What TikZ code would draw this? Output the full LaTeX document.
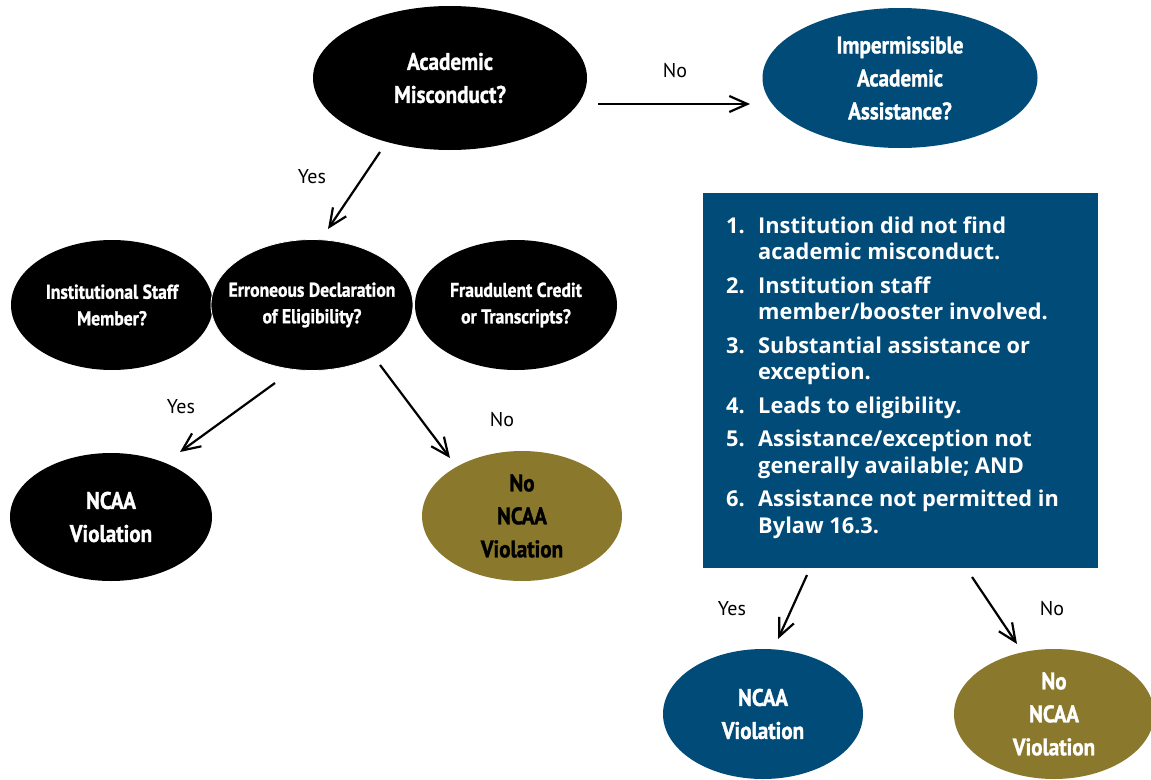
\documentclass[tikz,border=0pt]{standalone}
\usepackage{fontspec}
\setmainfont{PT Sans}
\newfontfamily\condf[FakeStretch=0.88,FakeBold=1.2]{PT Sans}
\newfontfamily\listf{Open Sans}
\newcommand\cl[1]{\makebox[0pt]{#1}}
\usetikzlibrary{shapes.geometric,arrows.meta}
\definecolor{ncaablue}{HTML}{014B78}
\definecolor{ncaaolive}{HTML}{8A782C}
\begin{document}
\begin{tikzpicture}[x=1pt,y=-1pt,
  oval/.style={ellipse, inner sep=0pt, align=center, text=white},
  bigtxt/.style={font=\condf\bfseries\fontsize{24}{33}\selectfont},
  smalltxt/.style={font=\condf\bfseries\fontsize{20}{26.5}\selectfont},
  lbl/.style={font=\fontsize{20}{24}\selectfont, inner sep=0pt},
  arr/.style={line width=2.2pt, -{Straight Barb[length=18pt,width=16pt]}}
]
\useasboundingbox (0,0) rectangle (1151,779);
\fill[white] (0,0) rectangle (1151,779);

% top row
\node[oval, bigtxt, fill=black, minimum width=274pt, minimum height=144pt] (top) at (450,78) {\cl{Academic}\\\cl{Misconduct?}};
\node[oval, bigtxt, fill=ncaablue, minimum width=275pt, minimum height=140pt] (imp) at (900,78) {\cl{Impermissible}\\\cl{Academic}\\\cl{Assistance?}};

% three questions
\node[oval, smalltxt, fill=black, minimum width=202pt, minimum height=130pt] (ins) at (112,305) {\cl{Institutional Staff}\\\cl{Member?}};
\node[oval, smalltxt, fill=black, minimum width=202pt, minimum height=130pt] (fra) at (516,305) {\cl{Fraudulent Credit}\\\cl{or Transcripts?}};
\node[oval, smalltxt, fill=black, draw=white, line width=0.8pt, minimum width=202pt, minimum height=131pt] (err) at (312,305) {\cl{Erroneous Declaration}\\\cl{of Eligibility?}};

% outcomes left
\node[oval, bigtxt, fill=black, minimum width=202pt, minimum height=128pt] (v1) at (111,517) {\cl{NCAA}\\\cl{Violation}};
\node[oval, bigtxt, fill=ncaaolive, text=black, minimum width=200pt, minimum height=130pt] (nv1) at (522,516) {\cl{No}\\\cl{NCAA}\\\cl{Violation}};

% criteria box
\node[rectangle, fill=ncaablue, minimum width=395pt, minimum height=375pt, inner sep=0pt] (crit) at (900.5,380.5) {};
\node[anchor=base west, inner sep=0pt, text=white, font=\listf\bfseries\fontsize{21.8}{26.5}\selectfont] (list) at (726,233) {%
\begin{tabular}[t]{@{}p{32pt}@{}l@{}}
1. & Institution did not find\\
   & academic misconduct.\\[7pt]
2. & Institution staff\\
   & member/booster involved.\\[7pt]
3. & Substantial assistance or\\
   & exception.\\[7pt]
4. & Leads to eligibility.\\[7pt]
5. & Assistance/exception not\\
   & generally available; AND\\[7pt]
6. & Assistance not permitted in\\
   & Bylaw 16.3.
\end{tabular}};

% outcomes right
\node[oval, bigtxt, fill=ncaablue, minimum width=200pt, minimum height=130pt] (v2) at (763,714) {\cl{NCAA}\\\cl{Violation}};
\node[oval, bigtxt, fill=ncaaolive, minimum width=200pt, minimum height=130pt] (nv2) at (1054,714) {\cl{No}\\\cl{NCAA}\\\cl{Violation}};

% connector end points
\coordinate (a1s) at (598,104); \coordinate (a1e) at (750,104);
\coordinate (a2s) at (380,152); \coordinate (a2e) at (328,229);
\coordinate (a3s) at (275,383); \coordinate (a3e) at (180,452);
\coordinate (a4s) at (380,365); \coordinate (a4e) at (450,458);
\coordinate (a5s) at (807,575); \coordinate (a5e) at (778,639);
\coordinate (a6s) at (972,577); \coordinate (a6e) at (1017,644);

\draw[arr] (a1s) -- (a1e);
\draw[arr] (a2s) -- (a2e);
\draw[arr] (a3s) -- (a3e);
\draw[arr] (a4s) -- (a4e);
\draw[arr] (a5s) -- (a5e);
\draw[arr] (a6s) -- (a6e);

% labels
\node[lbl] (lno1) at (675,71) {No};
\node[lbl] (lyes1) at (312,177) {Yes};
\node[lbl] (lyes2) at (181,407) {Yes};
\node[lbl] (lno2) at (502,420) {No};
\node[lbl] (lyes3) at (732,609) {Yes};
\node[lbl] (lno3) at (1052,609) {No};
\end{tikzpicture}
\end{document}
